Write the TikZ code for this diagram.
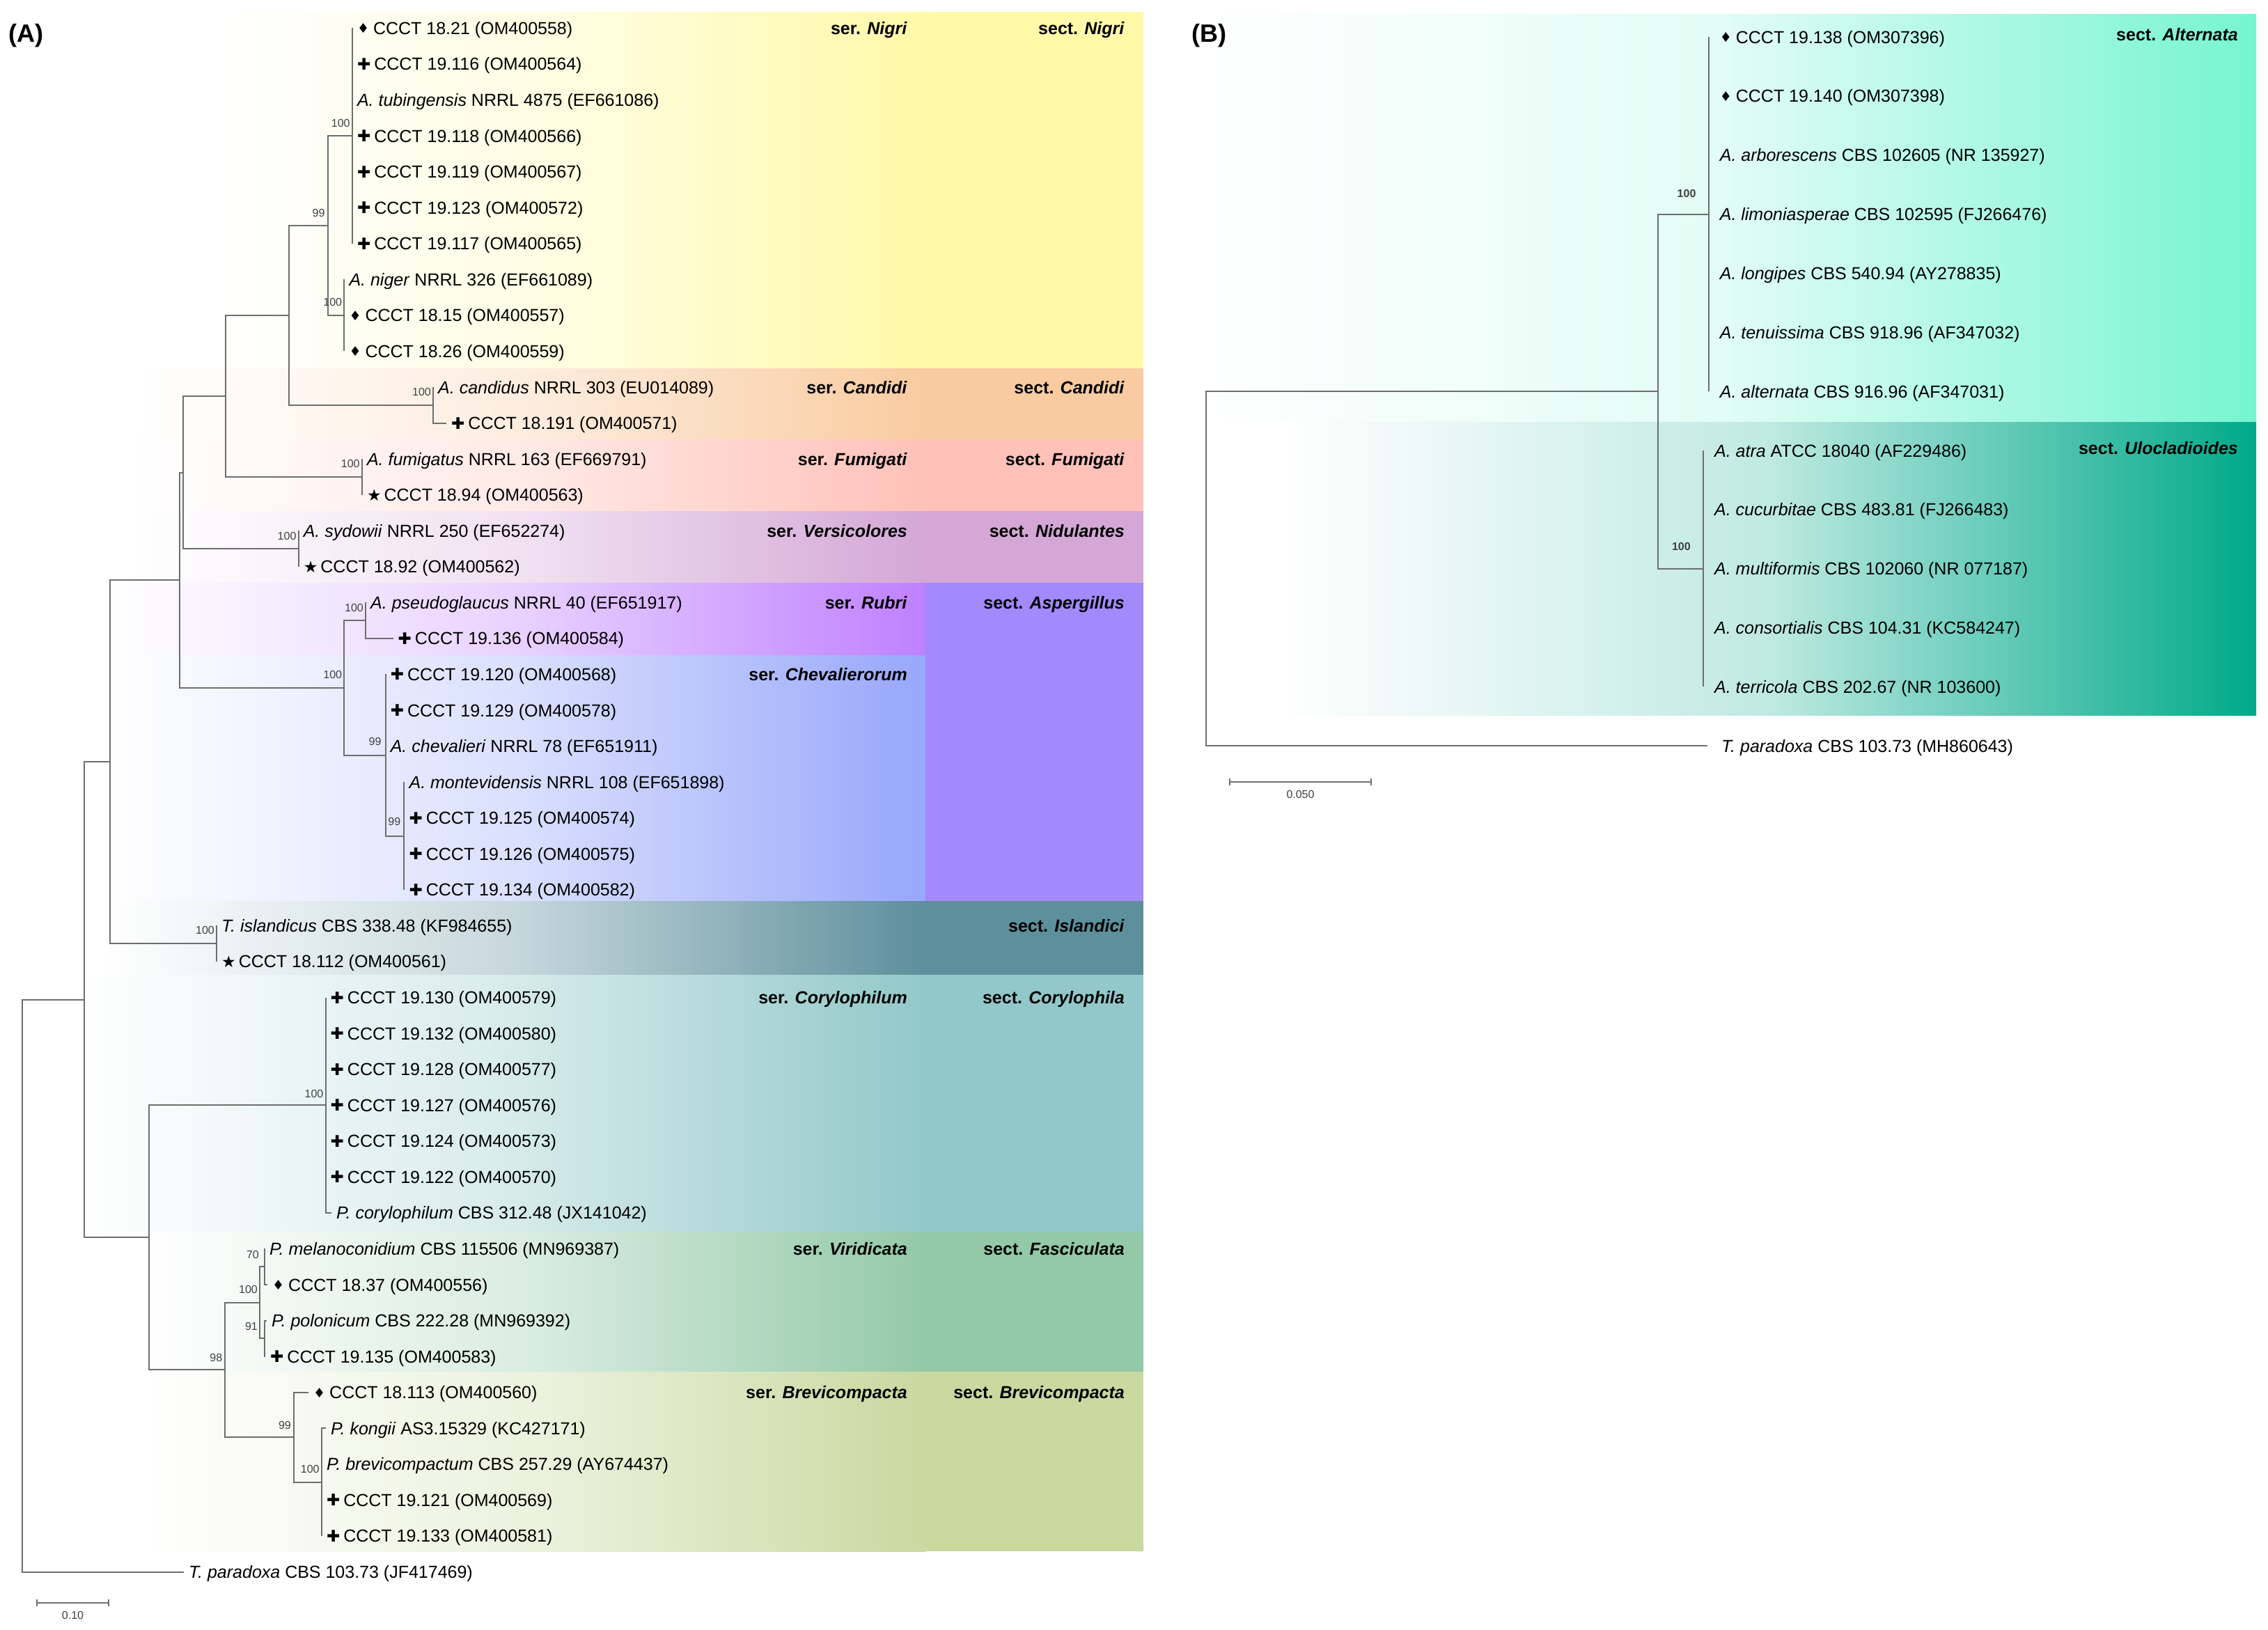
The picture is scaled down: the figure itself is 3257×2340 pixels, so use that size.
\documentclass[tikz,border=0pt]{standalone}
\usepackage{fontspec}
\setmainfont{Liberation Sans}
\newfontfamily\symf{DejaVu Sans}
\definecolor{lineg}{RGB}{110,110,110}
\definecolor{cNigri}{HTML}{FFF9A8}
\definecolor{cCandidi}{HTML}{F9CBA0}
\definecolor{cFumigati}{HTML}{FFC1B8}
\definecolor{cNidul}{HTML}{D4A7D6}
\definecolor{cRubri}{HTML}{BF80FF}
\definecolor{cAsper}{HTML}{A389FC}
\definecolor{cCheval}{HTML}{97A7FA}
\definecolor{cIsland}{HTML}{5D8F9C}
\definecolor{cCoryl}{HTML}{92C8C9}
\definecolor{cFasc}{HTML}{93C9A7}
\definecolor{cBrevi}{HTML}{C9D9A0}
\definecolor{cAlt}{HTML}{76F4D0}
\definecolor{cUlo}{HTML}{00A98A}
\newcommand{\mDia}{\raisebox{1.5pt}{\symf\fontsize{19}{19}\selectfont ♦}\hspace{6pt}}
\newcommand{\mPlus}{\raisebox{0.5pt}{\symf\fontsize{23}{23}\selectfont ✚}\hspace{5pt}}
\newcommand{\mStar}{\raisebox{0.5pt}{\symf\fontsize{23}{23}\selectfont ★}\hspace{4pt}}
\tikzset{
  br/.style={draw=lineg, line width=2pt},
  leaf/.style={anchor=base west, inner sep=0pt, xshift=7pt, yshift=-9pt, font=\fontsize{25}{30}\selectfont},
  leafb/.style={leaf, xshift=9pt},
  boot/.style={anchor=base east, inner sep=0pt, text=black!75, font=\fontsize{16}{18}\selectfont},
  bootb/.style={boot, font=\fontsize{16}{18}\selectfont\bfseries},
  grp/.style={anchor=base east, inner sep=0pt, font=\fontsize{25}{30}\selectfont\bfseries},
  panel/.style={anchor=west, inner sep=0pt, font=\fontsize{36}{40}\selectfont\bfseries},
  scl/.style={anchor=base, inner sep=0pt, text=black!75, font=\fontsize{16}{18}\selectfont},
  band/.style args={#1 and #2}{left color=white, right color=#1, middle color=#1!#2},
}
\begin{document}
\begin{tikzpicture}[x=1pt,y=-1pt]
\useasboundingbox (0,0) rectangle (3257,2340);
\fill[white] (0,0) rectangle (3257,2340);
% ---------- backgrounds A ----------
\shade[band=cNigri and 35] (300,17) rectangle (1329,529);
\fill[cNigri] (1329,17) rectangle (1641.5,529);
\shade[band=cCandidi and 35] (190,529) rectangle (1329,631);
\fill[cCandidi] (1329,529) rectangle (1641.5,631);
\shade[band=cFumigati and 35] (190,631) rectangle (1329,734);
\fill[cFumigati] (1329,631) rectangle (1641.5,734);
\shade[band=cNidul and 35] (190,734) rectangle (1329,837);
\fill[cNidul] (1329,734) rectangle (1641.5,837);
\shade[band=cRubri and 35] (150,837) rectangle (1329,941);
\shade[band=cCheval and 35] (150,941) rectangle (1329,1294);
\fill[cAsper] (1329,837) rectangle (1641.5,1294);
\shade[band=cIsland and 35] (150,1294) rectangle (1329,1400);
\fill[cIsland] (1329,1294) rectangle (1641.5,1400);
\shade[band=cCoryl and 35] (110,1400) rectangle (1329,1769);
\fill[cCoryl] (1329,1400) rectangle (1641.5,1769);
\shade[band=cFasc and 35] (200,1769) rectangle (1329,1970);
\fill[cFasc] (1329,1769) rectangle (1641.5,1970);
\shade[band=cBrevi and 35] (200,1970) rectangle (1329,2228);
\fill[cBrevi] (1329,1970) rectangle (1641.5,2228);
% ---------- backgrounds B ----------
\shade[band=cAlt and 22] (1720,20) rectangle (3240,606);
\shade[band=cUlo and 25] (1838,606) rectangle (3240,1027);

% ---------- panel labels ----------
\node[panel] (pA) at (12,51) {(A)};
\node[panel] (pB) at (1711,51) {(B)};

% ---------- tree A internal nodes ----------
\coordinate (R) at (32,1846.7);
\coordinate (N4) at (121,1435.8);
\coordinate (N3) at (158,1094.2);
\coordinate (N2) at (258.3,833.2);
\coordinate (N1) at (262.8,678.5);
\coordinate (Nc) at (324,568.9);
\coordinate (Nb) at (414.6,452.9);
\coordinate (Na) at (470.7,324);
\coordinate (Nnig1) at (505.8,195.1);
\coordinate (Nnig2) at (494.3,452.9);
\coordinate (Ncan) at (622,581.8);
\coordinate (Nfum) at (519.8,684.9);
\coordinate (Nsyd) at (428.6,788);
\coordinate (Nasp) at (494.3,987.9);
\coordinate (Npse) at (525,891.1);
\coordinate (Nche) at (553.6,1084.5);
\coordinate (Nmon) at (580.4,1200.5);
\coordinate (Nisl) at (311,1355.2);
\coordinate (N5) at (213.7,1777.3);
\coordinate (Ncor) at (467.5,1587.2);
\coordinate (N6) at (323.4,1967.3);
\coordinate (Nfas) at (373,1870.5);
\coordinate (N70) at (380,1819.2);
\coordinate (N91) at (380,1922.3);
\coordinate (N7) at (422,2064.2);
\coordinate (N8) at (461.8,2128.6);
% ---------- tree A leaves ----------
\coordinate (L1) at (505.8,40.40);
\coordinate (L2) at (505.8,91.96);
\coordinate (L3) at (505.8,143.52);
\coordinate (L4) at (505.8,195.08);
\coordinate (L5) at (505.8,246.64);
\coordinate (L6) at (505.8,298.20);
\coordinate (L7) at (505.8,349.76);
\coordinate (L8) at (494.3,401.32);
\coordinate (L9) at (494.3,452.88);
\coordinate (L10) at (494.3,504.44);
\coordinate (L11) at (622,556.00);
\coordinate (L12) at (641,607.56);
\coordinate (L13) at (519.8,659.12);
\coordinate (L14) at (519.8,710.68);
\coordinate (L15) at (428.6,762.24);
\coordinate (L16) at (428.6,813.80);
\coordinate (L17) at (525,865.36);
\coordinate (L18) at (564.5,916.92);
\coordinate (L19) at (553.6,968.48);
\coordinate (L20) at (553.6,1020.04);
\coordinate (L21) at (553.6,1071.60);
\coordinate (L22) at (580.4,1123.16);
\coordinate (L23) at (580.4,1174.72);
\coordinate (L24) at (580.4,1226.28);
\coordinate (L25) at (580.4,1277.84);
\coordinate (L26) at (311,1329.40);
\coordinate (L27) at (311,1380.96);
\coordinate (L28) at (467.5,1432.52);
\coordinate (L29) at (467.5,1484.08);
\coordinate (L30) at (467.5,1535.64);
\coordinate (L31) at (467.5,1587.20);
\coordinate (L32) at (467.5,1638.76);
\coordinate (L33) at (467.5,1690.32);
\coordinate (L34) at (476,1741.88);
\coordinate (L35) at (380,1793.44);
\coordinate (L36) at (384,1845.00);
\coordinate (L37) at (383,1896.56);
\coordinate (L38) at (381,1948.12);
\coordinate (L39) at (443,1999.68);
\coordinate (L40) at (468,2051.24);
\coordinate (L41) at (461.8,2102.80);
\coordinate (L42) at (461.8,2154.36);
\coordinate (L43) at (461.8,2205.92);
\coordinate (L44) at (264,2257.48);

% ---------- branches A ----------
\foreach \p/\c in {R/N4,R/L44,N4/N3,N4/N5,N3/N2,N3/Nisl,N2/N1,N2/Nasp,N1/Nc,N1/Nsyd,
  Nc/Nb,Nc/Nfum,Nb/Na,Nb/Ncan,Na/Nnig1,Na/Nnig2,
  Nnig1/L1,Nnig1/L2,Nnig1/L3,Nnig1/L4,Nnig1/L5,Nnig1/L6,Nnig1/L7,
  Nnig2/L8,Nnig2/L9,Nnig2/L10,Ncan/L11,Ncan/L12,Nfum/L13,Nfum/L14,Nsyd/L15,Nsyd/L16,
  Nasp/Npse,Nasp/Nche,Npse/L17,Npse/L18,Nche/L19,Nche/L20,Nche/L21,Nche/Nmon,
  Nmon/L22,Nmon/L23,Nmon/L24,Nmon/L25,Nisl/L26,Nisl/L27,
  N5/Ncor,N5/N6,Ncor/L28,Ncor/L29,Ncor/L30,Ncor/L31,Ncor/L32,Ncor/L33,Ncor/L34,
  N6/Nfas,N6/N7,Nfas/N70,Nfas/N91,N70/L35,N70/L36,N91/L37,N91/L38,
  N7/L39,N7/N8,N8/L40,N8/L41,N8/L42,N8/L43}
  \draw[br] (\p) |- (\c);

% ---------- leaf labels A ----------
\node[leaf] (t1) at (L1) {\mDia CCCT 18.21 (OM400558)};
\node[leaf] (t2) at (L2) {\mPlus CCCT 19.116 (OM400564)};
\node[leaf] (t3) at (L3) {\textit{A. tubingensis} NRRL 4875 (EF661086)};
\node[leaf] (t4) at (L4) {\mPlus CCCT 19.118 (OM400566)};
\node[leaf] (t5) at (L5) {\mPlus CCCT 19.119 (OM400567)};
\node[leaf] (t6) at (L6) {\mPlus CCCT 19.123 (OM400572)};
\node[leaf] (t7) at (L7) {\mPlus CCCT 19.117 (OM400565)};
\node[leaf] (t8) at (L8) {\textit{A. niger} NRRL 326 (EF661089)};
\node[leaf] (t9) at (L9) {\mDia CCCT 18.15 (OM400557)};
\node[leaf] (t10) at (L10) {\mDia CCCT 18.26 (OM400559)};
\node[leaf] (t11) at (L11) {\textit{A. candidus} NRRL 303 (EU014089)};
\node[leaf] (t12) at (L12) {\mPlus CCCT 18.191 (OM400571)};
\node[leaf] (t13) at (L13) {\textit{A. fumigatus} NRRL 163 (EF669791)};
\node[leaf] (t14) at (L14) {\mStar CCCT 18.94 (OM400563)};
\node[leaf] (t15) at (L15) {\textit{A. sydowii} NRRL 250 (EF652274)};
\node[leaf] (t16) at (L16) {\mStar CCCT 18.92 (OM400562)};
\node[leaf] (t17) at (L17) {\textit{A. pseudoglaucus} NRRL 40 (EF651917)};
\node[leaf] (t18) at (L18) {\mPlus CCCT 19.136 (OM400584)};
\node[leaf] (t19) at (L19) {\mPlus CCCT 19.120 (OM400568)};
\node[leaf] (t20) at (L20) {\mPlus CCCT 19.129 (OM400578)};
\node[leaf] (t21) at (L21) {\textit{A. chevalieri} NRRL 78 (EF651911)};
\node[leaf] (t22) at (L22) {\textit{A. montevidensis} NRRL 108 (EF651898)};
\node[leaf] (t23) at (L23) {\mPlus CCCT 19.125 (OM400574)};
\node[leaf] (t24) at (L24) {\mPlus CCCT 19.126 (OM400575)};
\node[leaf] (t25) at (L25) {\mPlus CCCT 19.134 (OM400582)};
\node[leaf] (t26) at (L26) {\textit{T. islandicus} CBS 338.48 (KF984655)};
\node[leaf] (t27) at (L27) {\mStar CCCT 18.112 (OM400561)};
\node[leaf] (t28) at (L28) {\mPlus CCCT 19.130 (OM400579)};
\node[leaf] (t29) at (L29) {\mPlus CCCT 19.132 (OM400580)};
\node[leaf] (t30) at (L30) {\mPlus CCCT 19.128 (OM400577)};
\node[leaf] (t31) at (L31) {\mPlus CCCT 19.127 (OM400576)};
\node[leaf] (t32) at (L32) {\mPlus CCCT 19.124 (OM400573)};
\node[leaf] (t33) at (L33) {\mPlus CCCT 19.122 (OM400570)};
\node[leaf] (t34) at (L34) {\textit{P. corylophilum} CBS 312.48 (JX141042)};
\node[leaf] (t35) at (L35) {\textit{P. melanoconidium} CBS 115506 (MN969387)};
\node[leaf] (t36) at (L36) {\mDia CCCT 18.37 (OM400556)};
\node[leaf] (t37) at (L37) {\textit{P. polonicum} CBS 222.28 (MN969392)};
\node[leaf] (t38) at (L38) {\mPlus CCCT 19.135 (OM400583)};
\node[leaf] (t39) at (L39) {\mDia CCCT 18.113 (OM400560)};
\node[leaf] (t40) at (L40) {\textit{P. kongii} AS3.15329 (KC427171)};
\node[leaf] (t41) at (L41) {\textit{P. brevicompactum} CBS 257.29 (AY674437)};
\node[leaf] (t42) at (L42) {\mPlus CCCT 19.121 (OM400569)};
\node[leaf] (t43) at (L43) {\mPlus CCCT 19.133 (OM400581)};
\node[leaf] (t44) at (L44) {\textit{T. paradoxa} CBS 103.73 (JF417469)};

% ---------- bootstrap A ----------
\path (Nnig1) ++(-3,-13) node[boot] (b1) {100};
\path (Na) ++(-4,-13) node[boot] (b2) {99};
\path (Nnig2) ++(-3,-13) node[boot] (b3) {100};
\path (Ncan) ++(-3,-13) node[boot] (b4) {100};
\path (Nfum) ++(-3,-13) node[boot] (b5) {100};
\path (Nsyd) ++(-3,-13) node[boot] (b6) {100};
\path (Npse) ++(-3,-13) node[boot] (b7) {100};
\path (Nasp) ++(-3,-13) node[boot] (b8) {100};
\path (Nche) ++(-6,-14) node[boot] (b9) {99};
\path (Nmon) ++(-5,-15) node[boot] (b10) {99};
\path (Nisl) ++(-3,-14) node[boot] (b11) {100};
\path (Ncor) ++(-3,-11) node[boot] (b12) {100};
\path (N6) ++(-4,-12) node[boot] (b13) {98};
\path (N70) ++(-8,-12) node[boot] (b14) {70};
\path (Nfas) ++(-3,-13) node[boot] (b15) {100};
\path (N91) ++(-10,-12) node[boot] (b16) {91};
\path (N7) ++(-4,-12) node[boot] (b17) {99};
\path (N8) ++(-3,-13) node[boot] (b18) {100};

% ---------- group labels A ----------
\node[grp] (s1) at (1303,49.4) {ser. \textit{Nigri}};
\node[grp] (S1) at (1615,49.4) {sect. \textit{Nigri}};
\node[grp] (s2) at (1303,565) {ser. \textit{Candidi}};
\node[grp] (S2) at (1615,565) {sect. \textit{Candidi}};
\node[grp] (s3) at (1303,668.1) {ser. \textit{Fumigati}};
\node[grp] (S3) at (1615,668.1) {sect. \textit{Fumigati}};
\node[grp] (s4) at (1303,771.2) {ser. \textit{Versicolores}};
\node[grp] (S4) at (1615,771.2) {sect. \textit{Nidulantes}};
\node[grp] (s5) at (1303,874.4) {ser. \textit{Rubri}};
\node[grp] (S5) at (1615,874.4) {sect. \textit{Aspergillus}};
\node[grp] (s6) at (1303,977.5) {ser. \textit{Chevalierorum}};
\node[grp] (S6) at (1615,1338.4) {sect. \textit{Islandici}};
\node[grp] (s7) at (1303,1441.5) {ser. \textit{Corylophilum}};
\node[grp] (S7) at (1615,1441.5) {sect. \textit{Corylophila}};
\node[grp] (s8) at (1303,1802.4) {ser. \textit{Viridicata}};
\node[grp] (S8) at (1615,1802.4) {sect. \textit{Fasciculata}};
\node[grp] (s9) at (1303,2008.7) {ser. \textit{Brevicompacta}};
\node[grp] (S9) at (1615,2008.7) {sect. \textit{Brevicompacta}};

% ---------- scale bar A ----------
\coordinate (sa1) at (53,2302);
\coordinate (sa2) at (156,2302);
\draw[br, line width=1.6pt] (sa1) -- (sa2);
\draw[br, line width=1.6pt] (sa1) ++(0,-5) -- ++(0,10);
\draw[br, line width=1.6pt] (sa2) ++(0,-5) -- ++(0,10);
\path (sa1) -- (sa2) node[midway, scl, yshift=-23pt] (sla) {0.10};

% ---------- tree B ----------
\coordinate (RB) at (1731.6,816.7);
\coordinate (NB) at (2381,562.2);
\coordinate (NAlt) at (2453.6,307.6);
\coordinate (NUlo) at (2445.9,816.7);
\coordinate (M1) at (2453.6,53.0);
\coordinate (M2) at (2453.6,137.9);
\coordinate (M3) at (2453.6,222.7);
\coordinate (M4) at (2453.6,307.6);
\coordinate (M5) at (2453.6,392.4);
\coordinate (M6) at (2453.6,477.3);
\coordinate (M7) at (2453.6,562.1);
\coordinate (M8) at (2445.9,647.0);
\coordinate (M9) at (2445.9,731.8);
\coordinate (M10) at (2445.9,816.7);
\coordinate (M11) at (2445.9,901.5);
\coordinate (M12) at (2445.9,986.4);
\coordinate (M13) at (2452,1071.2);
\foreach \p/\c in {RB/NB,RB/M13,NB/NAlt,NB/NUlo,NAlt/M1,NAlt/M2,NAlt/M3,NAlt/M4,NAlt/M5,NAlt/M6,NAlt/M7,
  NUlo/M8,NUlo/M9,NUlo/M10,NUlo/M11,NUlo/M12}
  \draw[br] (\p) |- (\c);
\node[leafb] (u1) at (M1) {\mDia CCCT 19.138 (OM307396)};
\node[leafb] (u2) at (M2) {\mDia CCCT 19.140 (OM307398)};
\node[leafb] (u3) at (M3) {\textit{A. arborescens} CBS 102605 (NR 135927)};
\node[leafb] (u4) at (M4) {\textit{A. limoniasperae} CBS 102595 (FJ266476)};
\node[leafb] (u5) at (M5) {\textit{A. longipes} CBS 540.94 (AY278835)};
\node[leafb] (u6) at (M6) {\textit{A. tenuissima} CBS 918.96 (AF347032)};
\node[leafb] (u7) at (M7) {\textit{A. alternata} CBS 916.96 (AF347031)};
\node[leafb] (u8) at (M8) {\textit{A. atra} ATCC 18040 (AF229486)};
\node[leafb] (u9) at (M9) {\textit{A. cucurbitae} CBS 483.81 (FJ266483)};
\node[leafb] (u10) at (M10) {\textit{A. multiformis} CBS 102060 (NR 077187)};
\node[leafb] (u11) at (M11) {\textit{A. consortialis} CBS 104.31 (KC584247)};
\node[leafb] (u12) at (M12) {\textit{A. terricola} CBS 202.67 (NR 103600)};
\node[leafb, xshift=4pt] (u13) at (M13) {\textit{T. paradoxa} CBS 103.73 (MH860643)};
\path (NAlt) ++(-18,-24) node[bootb] (bb1) {100};
\path (NUlo) ++(-18,-26) node[bootb] (bb2) {100};
\node[grp] (SB1) at (3214,58) {sect. \textit{Alternata}};
\node[grp] (SB2) at (3214,652) {sect. \textit{Ulocladioides}};
% ---------- scale bar B ----------
\coordinate (sb1) at (1766,1123);
\coordinate (sb2) at (1969,1123);
\draw[br, line width=1.6pt] (sb1) -- (sb2);
\draw[br, line width=1.6pt] (sb1) ++(0,-5) -- ++(0,10);
\draw[br, line width=1.6pt] (sb2) ++(0,-5) -- ++(0,10);
\path (sb1) -- (sb2) node[midway, scl, yshift=-23pt] (slb) {0.050};
\end{tikzpicture}
\end{document}
